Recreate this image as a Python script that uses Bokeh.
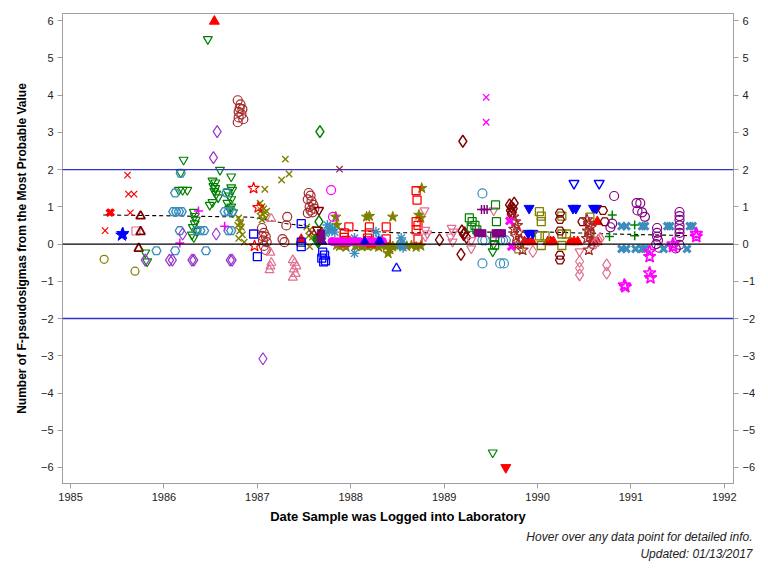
from bokeh.plotting import figure
from bokeh.models import Range1d, LinearAxis, FixedTicker, Span, Title
from bokeh.embed import file_html
from bokeh.resources import INLINE

# ---------------- data (decimal year, F-pseudosigmas) ----------------
RED_X_DATE = [1985.61, 1985.62, 1985.68, 1985.64, 1985.37]
RED_X_VAL = [1.85, 1.34, 1.34, 0.84, 0.36]
RED_XB_DATE = [1985.42, 1985.43]
RED_XB_VAL = [0.84, 0.85]
BLUE_STAR_DATE = [1985.55, 1985.56]
BLUE_STAR_VAL = [0.24, 0.28]
PINK_SQ_DATE = [1985.70]
PINK_SQ_VAL = [0.35]
MAROON_TRI_DATE = [1985.75, 1985.75, 1985.73]
MAROON_TRI_VAL = [0.75, 0.33, -0.12]
OLIVE_CIR_DATE = [1985.36, 1985.69]
OLIVE_CIR_VAL = [-0.41, -0.73]
GREEN_DT_DATE = [1986.47, 1986.21, 1986.60, 1986.72, 1986.18, 1986.16, 1986.20, 1986.25,
                 1986.52, 1986.55, 1986.53, 1986.55, 1986.54, 1986.56, 1986.58, 1986.52, 1986.49,
                 1986.72, 1986.68, 1986.70, 1986.72, 1986.68, 1986.72, 1986.70, 1986.74, 1986.73,
                 1986.32, 1986.33, 1986.34, 1986.33, 1986.31, 1986.35, 1986.30, 1986.32,
                 1985.80, 1985.82, 1989.52, 1989.52, 1989.53]
GREEN_DT_VAL = [5.50, 2.26, 1.99, 1.81, 1.92, 1.45, 1.45, 1.45,
                1.70, 1.65, 1.55, 1.50, 1.42, 1.35, 1.25, 1.12, 1.05,
                1.52, 1.40, 1.30, 1.20, 1.10, 1.00, 0.95, 0.85, 1.45,
                0.86, 0.75, 0.65, 0.55, 0.45, 0.35, 0.25, 0.18,
                -0.23, -0.47, -5.60, -0.20, 0.00]
TEAL_SH_DATE = [1986.12, 1986.18, 1986.67, 1986.10, 1986.13, 1986.16, 1986.19,
                1986.65, 1986.69, 1986.73, 1986.17, 1986.35, 1986.39, 1986.43,
                1986.69, 1986.72, 1985.92, 1986.12, 1986.45]
TEAL_SH_VAL = [1.37, 1.90, 1.38, 0.87, 0.87, 0.87, 0.87,
               0.87, 0.87, 0.87, 0.36, 0.36, 0.36, 0.36,
               0.36, 0.36, -0.18, -0.18, -0.18]
PURPLE_DM_DATE = [1986.57, 1986.53, 1986.20, 1986.56, 1985.80, 1986.06, 1986.09,
                  1986.30, 1986.32, 1986.71, 1986.73, 1987.06]
PURPLE_DM_VAL = [3.02, 2.32, 0.27, 0.27, -0.43, -0.43, -0.43,
                 -0.43, -0.43, -0.43, -0.43, -3.08]
MAGENTA_HASH_DATE = [1986.37, 1986.65, 1986.17]
MAGENTA_HASH_VAL = [0.89, 0.48, 0.03]
BROWN_CIR_DATE = [1986.79, 1986.82, 1986.81, 1986.84, 1986.80, 1986.83, 1986.80, 1986.85, 1986.79,
                  1987.05, 1987.07, 1987.09, 1987.06, 1987.10, 1987.07, 1987.09, 1987.05,
                  1987.27, 1987.29, 1987.32, 1987.31,
                  1987.55, 1987.57, 1987.54, 1987.58, 1987.60, 1987.56, 1987.61, 1987.57, 1987.54, 1987.59]
BROWN_CIR_VAL = [3.86, 3.75, 3.65, 3.62, 3.55, 3.48, 3.40, 3.35, 3.27,
                 0.43, 0.30, 0.20, 0.10, 0.05, -0.05, -0.16, 0.22,
                 0.13, 0.05, 0.73, 0.50,
                 1.37, 1.30, 1.20, 1.15, 1.05, 1.00, 0.95, 0.90, 0.83, 0.85]
RED_TRI_DATE = [1986.54, 1989.86, 1989.90, 1989.94, 1990.11, 1990.14, 1990.17,
                1990.35, 1990.39, 1990.43, 1990.60, 1990.64, 1990.64, 1987.47]
RED_TRI_VAL = [5.98, 0.06, 0.06, 0.06, 0.06, 0.06, 0.06,
               0.06, 0.06, 0.06, 0.06, 0.06, 0.60, 0.12]
RED_DT_DATE = [1989.66]
RED_DT_VAL = [-6.00]
OLIVE_X_DATE = [1987.30, 1987.34, 1987.26, 1987.08,
                1986.80, 1986.82, 1986.79, 1986.83, 1986.81, 1986.84, 1986.80, 1986.86, 1986.82,
                1987.03, 1987.05, 1987.07, 1987.04, 1987.08, 1987.06, 1987.03, 1987.09, 1987.05, 1987.10,
                1987.53, 1987.56, 1987.58, 1987.55, 1987.59, 1987.56]
OLIVE_X_VAL = [2.28, 1.88, 1.72, 1.47,
               0.70, 0.60, 0.50, 0.45, 0.35, 0.25, 0.15, 0.05, 0.55,
               1.10, 1.00, 0.95, 0.90, 0.85, 0.80, 0.75, 0.70, 0.65, 0.88,
               0.46, 0.38, 0.30, 0.22, 0.19, -0.07]
RED_STAR_DATE = [1986.96, 1987.01, 1986.97]
RED_STAR_VAL = [1.50, 0.98, -0.05]
BLUE_SQ_DATE = [1986.96, 1987.00, 1987.47, 1987.47, 1987.47, 1987.70, 1987.72, 1987.69, 1987.73, 1987.71]
BLUE_SQ_VAL = [0.27, -0.34, 0.55, 0.05, -0.07, -0.22, -0.30, -0.38, -0.45, -0.48]
PINK_TRI_DATE = [1987.15, 1987.14, 1987.15, 1987.14, 1987.13,
                 1987.38, 1987.40, 1987.42, 1987.39, 1987.41, 1987.38]
PINK_TRI_VAL = [0.68, -0.23, -0.50, -0.60, -0.70,
                -0.43, -0.50, -0.60, -0.68, -0.80, -0.90]
GREEN_DM_DATE = [1987.67, 1987.66]
GREEN_DM_VAL = [3.02, 0.60]
GREEN_DMF_DATE = [1987.63, 1987.66, 1987.69, 1987.65]
GREEN_DMF_VAL = [0.12, 0.08, 0.15, 0.05]
MAROON_DM_DATE = [1989.20, 1988.95, 1989.19, 1989.21, 1989.24, 1989.22, 1989.18,
                  1989.70, 1989.72, 1989.74, 1989.71, 1989.73, 1989.75, 1989.72]
MAROON_DM_VAL = [2.76, 0.11, 0.35, 0.25, 0.18, 0.30, -0.28,
                 1.05, 1.00, 0.95, 0.90, 0.85, 1.10, 0.80]
MAGENTA_X_DATE = [1989.45, 1989.45]
MAGENTA_X_VAL = [3.94, 3.27]
OLIVE_STAR_DATE = [1988.76, 1987.84, 1987.85, 1988.17, 1988.20, 1988.45, 1988.73, 1988.75,
                   1987.85, 1987.88, 1987.92, 1987.95, 1988.05, 1988.08, 1988.12, 1988.15, 1988.18,
                   1988.22, 1988.25, 1988.30, 1988.33, 1988.38, 1988.42, 1988.45, 1988.50, 1988.55,
                   1988.60, 1988.65, 1988.70, 1988.75, 1988.40, 1988.42]
OLIVE_STAR_VAL = [1.50, 0.73, 0.51, 0.73, 0.75, 0.73, 0.78, 0.70,
                  -0.03, -0.06, -0.02, -0.08, -0.05, -0.03, -0.07, -0.04, -0.06,
                  -0.02, -0.05, -0.08, -0.04, -0.06, -0.03, -0.07, -0.05, -0.02,
                  -0.06, -0.04, -0.08, -0.05, -0.25, -0.15]
RED_SQ_DATE = [1987.98, 1987.93, 1987.93, 1987.93, 1988.20, 1988.20, 1988.18, 1988.22,
               1988.38, 1988.38, 1988.70, 1988.71, 1988.70, 1988.72, 1988.70, 1988.72, 1987.95]
RED_SQ_VAL = [0.46, 0.30, 0.18, 0.05, 0.46, 0.30, 0.16, 0.03,
              0.46, 0.14, 1.43, 1.18, 0.60, 0.50, 0.38, 0.13, 0.10]
TEAL_AST_DATE = [1987.75, 1987.78, 1987.80, 1987.83, 1987.77, 1988.04, 1988.04,
                 1988.27, 1988.30, 1988.54, 1988.55, 1988.53, 1988.56, 1987.73]
TEAL_AST_VAL = [0.51, 0.45, 0.40, 0.32, 0.35, 0.16, -0.25,
                0.33, 0.15, 0.16, 0.05, -0.05, -0.10, 0.28]
MAGENTA_CIRF_DATE = [1987.80, 1987.83, 1987.86, 1987.90, 1987.95, 1988.00, 1988.05,
                     1988.10, 1988.15, 1988.20, 1988.25, 1988.30, 1988.34]
MAGENTA_CIRF_VAL = [0.07, 0.06, 0.06, 0.07, 0.05, 0.06, 0.07,
                    0.06, 0.05, 0.07, 0.06, 0.06, 0.07]
MAGENTA_CIR_DATE = [1987.79, 1987.81]
MAGENTA_CIR_VAL = [1.45, 0.73]
BLUE_TRIF_DATE = [1988.15, 1988.30, 1988.32, 1987.70]
BLUE_TRIF_VAL = [0.08, 0.08, 0.06, 0.06]
PINK_DT_DATE = [1988.79, 1988.80, 1988.82, 1988.80, 1989.08, 1989.10, 1989.07, 1989.09,
                1989.29, 1989.29, 1989.53, 1989.52, 1990.45]
PINK_DT_VAL = [0.90, 0.38, 0.28, 0.20, 0.43, 0.33, 0.20, 0.06,
               0.10, -0.12, 0.90, 0.10, -0.20]
BLUE_TRI_DATE = [1988.49]
BLUE_TRI_VAL = [-0.65]
TEAL_CIR_DATE = [1989.41, 1989.41, 1989.44, 1989.60, 1989.63, 1989.66, 1989.41, 1989.60, 1989.64]
TEAL_CIR_VAL = [1.36, 0.10, 0.10, 0.10, 0.10, 0.10, -0.52, -0.52, -0.52]
GREEN_SQ_DATE = [1989.27, 1989.30, 1989.33, 1989.29, 1989.35, 1989.55, 1989.56, 1989.54, 1989.54]
GREEN_SQ_VAL = [0.70, 0.60, 0.50, 0.45, 0.38, 1.05, 0.60, 0.20, -0.03]
PURPLE_HASH_DATE = [1989.40, 1989.43, 1989.46]
PURPLE_HASH_VAL = [0.93, 0.93, 0.93]
PURPLE_SQF_DATE = [1987.68, 1987.68, 1989.36, 1989.41, 1989.55, 1989.58, 1989.62]
PURPLE_SQF_VAL = [0.29, 0.12, 0.30, 0.29, 0.29, 0.29, 0.29]
BLUE_DTF_DATE = [1989.91, 1990.38, 1990.41, 1990.60, 1990.63, 1989.90, 1989.95]
BLUE_DTF_VAL = [0.96, 0.96, 0.96, 0.96, 0.96, 0.29, 0.29]
BLUE_DT_DATE = [1990.39, 1990.66]
BLUE_DT_VAL = [1.63, 1.63]
OLIVE_SQ_DATE = [1990.02, 1990.04, 1990.04, 1990.02, 1990.08, 1990.04, 1989.80,
                 1990.26, 1990.26, 1990.31, 1990.26, 1990.56, 1990.56]
OLIVE_SQ_VAL = [0.87, 0.75, 0.60, 0.22, 0.22, -0.04, -0.13,
                0.75, 0.27, 0.27, -0.04, 0.72, 0.30]
MAROON_SH_DATE = [1990.24, 1990.24, 1990.24, 1990.24, 1990.24, 1990.48, 1990.72, 1990.70]
MAROON_SH_VAL = [0.83, 0.66, 0.35, -0.30, -0.43, 0.60, 0.60, 0.90]
BROWN_STAR_DATE = [1989.74, 1989.76, 1989.78, 1989.75, 1989.80, 1989.77, 1989.82, 1989.79, 1989.84,
                   1990.53, 1990.55, 1990.57, 1990.54, 1990.56, 1990.53, 1990.58, 1990.55]
BROWN_STAR_VAL = [0.73, 0.60, 0.50, 0.40, 0.30, 0.20, 0.10, 0.00, -0.16,
                  0.65, 0.55, 0.45, 0.35, 0.25, 0.15, 0.05, -0.16]
PINK_DM_DATE = [1989.95, 1990.45, 1990.45, 1990.45, 1990.74, 1990.74, 1990.62, 1990.65, 1990.67]
PINK_DM_VAL = [-0.20, -0.47, -0.65, -0.83, -0.56, -0.78, 0.03, 0.10, 0.15]
PURPLE_CIR_DATE = [1990.82, 1991.06, 1991.10, 1991.07, 1991.12, 1991.15,
                   1991.52, 1991.52, 1991.52, 1991.52, 1991.52, 1991.52, 1991.52,
                   1991.28, 1991.28, 1991.28, 1991.29, 1991.27, 1991.30,
                   1990.80, 1990.78, 1991.48, 1991.52]
PURPLE_CIR_VAL = [1.29, 1.10, 1.10, 0.90, 0.85, 0.73,
                  0.86, 0.75, 0.65, 0.50, 0.40, 0.30, 0.19,
                  0.43, 0.30, 0.20, 0.10, 0.00, -0.10,
                  0.55, 0.45, -0.12, -0.02]
GREEN_HASH_DATE = [1990.80, 1990.77, 1991.04, 1991.04]
GREEN_HASH_VAL = [0.78, 0.20, 0.51, 0.22]
TEAL_XF_DATE = [1990.90, 1990.95, 1991.12, 1991.15, 1991.39, 1991.42, 1991.63, 1991.66,
                1990.90, 1990.95, 1991.05, 1991.12, 1991.15, 1991.35, 1991.60]
TEAL_XF_VAL = [0.48, 0.48, 0.48, 0.48, 0.48, 0.48, 0.48, 0.48,
               -0.13, -0.13, -0.13, -0.13, -0.13, -0.13, -0.13]
MAGENTA_STAR_DATE = [1991.70, 1991.70, 1991.45, 1991.45, 1991.20, 1991.20, 1991.20, 1991.21, 1990.93, 1990.94]
MAGENTA_STAR_VAL = [0.20, 0.28, -0.07, 0.00, -0.20, -0.34, -0.78, -0.91, -1.10, -1.15]
MAGENTA_XF_DATE = [1989.70, 1989.72]
MAGENTA_XF_VAL = [0.62, -0.07]
BROWN_X_DATE = [1987.88, 1987.58]
BROWN_X_VAL = [2.01, 0.30]
MAROON_DT_DATE = [1987.66, 1987.64]
MAROON_DT_VAL = [0.91, 0.38]

TREND_DATE = [1985.35, 1986.0, 1986.95, 1987.3, 1987.8, 1988.5, 1989.0, 1990.0, 1990.8, 1991.7]
TREND_VAL = [0.78, 0.76, 0.72, 0.55, 0.40, 0.30, 0.31, 0.33, 0.27, 0.22]

X_TICKS = [1985, 1986, 1987, 1988, 1989, 1990, 1991, 1992]
Y_TICKS = [-6, -5, -4, -3, -2, -1, 0, 1, 2, 3, 4, 5, 6]

# ---------------- colours ----------------
RED = "#FF0000"; GREEN = "#008000"; BLUE = "#0000FF"; MAGENTA = "#FF00FF"
OLIVE = "#808000"; TEAL = "#3A8DBD"; MAROON = "#800000"; BROWN = "#A52A2A"
PURPLE = "#800080"; ORCHID = "#9932CC"; PINK = "#E0708F"

# (x, y, marker, colour, filled, size, line width)
SERIES = [
    (RED_X_DATE, RED_X_VAL, "x", RED, False, 9, 1.2),
    (RED_XB_DATE, RED_XB_VAL, "x", RED, False, 9, 3),
    (BLUE_STAR_DATE, BLUE_STAR_VAL, "star", BLUE, True, 13, 1),
    (PINK_SQ_DATE, PINK_SQ_VAL, "square", PINK, False, 8, 1.2),
    (MAROON_TRI_DATE, MAROON_TRI_VAL, "triangle", MAROON, False, 9, 1.8),
    (OLIVE_CIR_DATE, OLIVE_CIR_VAL, "circle", OLIVE, False, 8, 1.2),
    (GREEN_DT_DATE, GREEN_DT_VAL, "inverted_triangle", GREEN, False, 9, 1.2),
    (TEAL_SH_DATE, TEAL_SH_VAL, "hex", TEAL, False, 9, 1.4),
    (PURPLE_DM_DATE, PURPLE_DM_VAL, "diamond", ORCHID, False, 12, 1.2),
    (MAGENTA_HASH_DATE, MAGENTA_HASH_VAL, "cross", MAGENTA, False, 9, 1.5),
    (BROWN_CIR_DATE, BROWN_CIR_VAL, "circle", BROWN, False, 9, 1.2),
    (RED_TRI_DATE, RED_TRI_VAL, "triangle", RED, True, 10, 1),
    (RED_DT_DATE, RED_DT_VAL, "inverted_triangle", RED, True, 10, 1),
    (OLIVE_X_DATE, OLIVE_X_VAL, "x", OLIVE, False, 9, 1.4),
    (RED_STAR_DATE, RED_STAR_VAL, "star", RED, False, 12, 1.2),
    (BLUE_SQ_DATE, BLUE_SQ_VAL, "square", BLUE, False, 8, 1.3),
    (PINK_TRI_DATE, PINK_TRI_VAL, "triangle", PINK, False, 9, 1.2),
    (GREEN_DM_DATE, GREEN_DM_VAL, "diamond", GREEN, False, 12, 1.5),
    (GREEN_DMF_DATE, GREEN_DMF_VAL, "diamond", GREEN, True, 12, 1),
    (MAROON_DM_DATE, MAROON_DM_VAL, "diamond", MAROON, False, 12, 1.4),
    (MAGENTA_X_DATE, MAGENTA_X_VAL, "x", MAGENTA, False, 9, 1.3),
    (OLIVE_STAR_DATE, OLIVE_STAR_VAL, "star", OLIVE, True, 11, 1),
    (RED_SQ_DATE, RED_SQ_VAL, "square", RED, False, 8, 1.3),
    (TEAL_AST_DATE, TEAL_AST_VAL, "asterisk", TEAL, False, 10, 1.4),
    (MAGENTA_CIRF_DATE, MAGENTA_CIRF_VAL, "circle", MAGENTA, True, 8, 1),
    (MAGENTA_CIR_DATE, MAGENTA_CIR_VAL, "circle", MAGENTA, False, 9, 1.2),
    (BLUE_TRIF_DATE, BLUE_TRIF_VAL, "triangle", BLUE, True, 8, 1),
    (PINK_DT_DATE, PINK_DT_VAL, "inverted_triangle", PINK, False, 9, 1.2),
    (BLUE_TRI_DATE, BLUE_TRI_VAL, "triangle", BLUE, False, 9, 1.3),
    (TEAL_CIR_DATE, TEAL_CIR_VAL, "circle", TEAL, False, 9, 1.2),
    (GREEN_SQ_DATE, GREEN_SQ_VAL, "square", GREEN, False, 8, 1.2),
    (PURPLE_HASH_DATE, PURPLE_HASH_VAL, "cross", PURPLE, False, 9, 1.5),
    (PURPLE_SQF_DATE, PURPLE_SQF_VAL, "square", PURPLE, True, 7, 1),
    (BLUE_DTF_DATE, BLUE_DTF_VAL, "inverted_triangle", BLUE, True, 10, 1),
    (BLUE_DT_DATE, BLUE_DT_VAL, "inverted_triangle", BLUE, False, 10, 1.4),
    (OLIVE_SQ_DATE, OLIVE_SQ_VAL, "square", OLIVE, False, 8, 1.3),
    (MAROON_SH_DATE, MAROON_SH_VAL, "hex", MAROON, False, 9, 1.3),
    (BROWN_STAR_DATE, BROWN_STAR_VAL, "star", BROWN, False, 12, 1.2),
    (PINK_DM_DATE, PINK_DM_VAL, "diamond", PINK, False, 12, 1.2),
    (PURPLE_CIR_DATE, PURPLE_CIR_VAL, "circle", PURPLE, False, 9, 1.2),
    (GREEN_HASH_DATE, GREEN_HASH_VAL, "cross", GREEN, False, 9, 1.5),
    (TEAL_XF_DATE, TEAL_XF_VAL, "x", TEAL, False, 10, 3),
    (MAGENTA_STAR_DATE, MAGENTA_STAR_VAL, "star", MAGENTA, False, 13, 1.6),
    (MAGENTA_XF_DATE, MAGENTA_XF_VAL, "x", MAGENTA, False, 10, 3),
    (BROWN_X_DATE, BROWN_X_VAL, "x", BROWN, False, 9, 1.3),
    (MAROON_DT_DATE, MAROON_DT_VAL, "inverted_triangle", MAROON, False, 9, 1.4),
]

FONT = "Liberation Sans"

p = figure(width=760, height=568, output_backend="svg", toolbar_location=None,
           x_range=Range1d(1984.914, 1992.098), y_range=Range1d(-6.43, 6.19),
           min_border_left=62, min_border_right=27, min_border_top=13, min_border_bottom=85)
p.background_fill_color = "white"
p.border_fill_color = "white"
p.outline_line_color = "#A0A0A0"
p.xgrid.visible = False
p.ygrid.visible = False

def style_axis(ax):
    ax.axis_line_color = "#A0A0A0"
    ax.major_tick_line_color = "#A0A0A0"
    ax.minor_tick_line_color = None
    ax.major_tick_out = 5
    ax.major_tick_in = 0
    ax.major_label_text_font = FONT
    ax.major_label_text_font_size = "11px"
    ax.major_label_text_color = "#222222"
    ax.major_label_standoff = 4
    ax.axis_label_text_font = FONT
    ax.axis_label_text_font_style = "bold"
    ax.axis_label_text_color = "black"

p.xaxis.ticker = FixedTicker(ticks=X_TICKS)
p.yaxis.ticker = FixedTicker(ticks=Y_TICKS)
p.xaxis.axis_label = "Date Sample was Logged into Laboratory"
p.yaxis.axis_label = "Number of F-pseudosigmas from the Most Probable Value"
style_axis(p.xaxis[0])
style_axis(p.yaxis[0])
p.xaxis.axis_label_text_font_size = "13px"
p.yaxis.axis_label_text_font_size = "12px"
p.xaxis.axis_label_standoff = 5
p.yaxis.axis_label_standoff = 9

right = LinearAxis(ticker=FixedTicker(ticks=Y_TICKS))
style_axis(right)
p.add_layout(right, "right")

for loc, col in [(2, "#3333CC"), (-2, "#3333CC"), (0, "black")]:
    p.add_layout(Span(location=loc, dimension="width", line_color=col, line_width=1.3))

p.line(TREND_DATE, TREND_VAL, line_color="black", line_dash="4 3", line_width=1.1)

for xs, ys, mk, col, filled, sz, lw in SERIES:
    p.scatter(xs, ys, marker=mk, size=sz, line_color=col, line_width=lw,
              fill_color=col if filled else None)

t1 = Title(text="Hover over any data point for detailed info.", align="right",
           text_font=FONT, text_font_size="12px", text_font_style="italic",
           text_color="#222222", offset=-19, standoff=2)
t2 = Title(text="Updated: 01/13/2017", align="right",
           text_font=FONT, text_font_size="12px", text_font_style="italic",
           text_color="#222222", offset=-19, standoff=0)
p.add_layout(t1, "below")
p.add_layout(t2, "below")

open("out.html", "w").write(file_html(p, INLINE))
